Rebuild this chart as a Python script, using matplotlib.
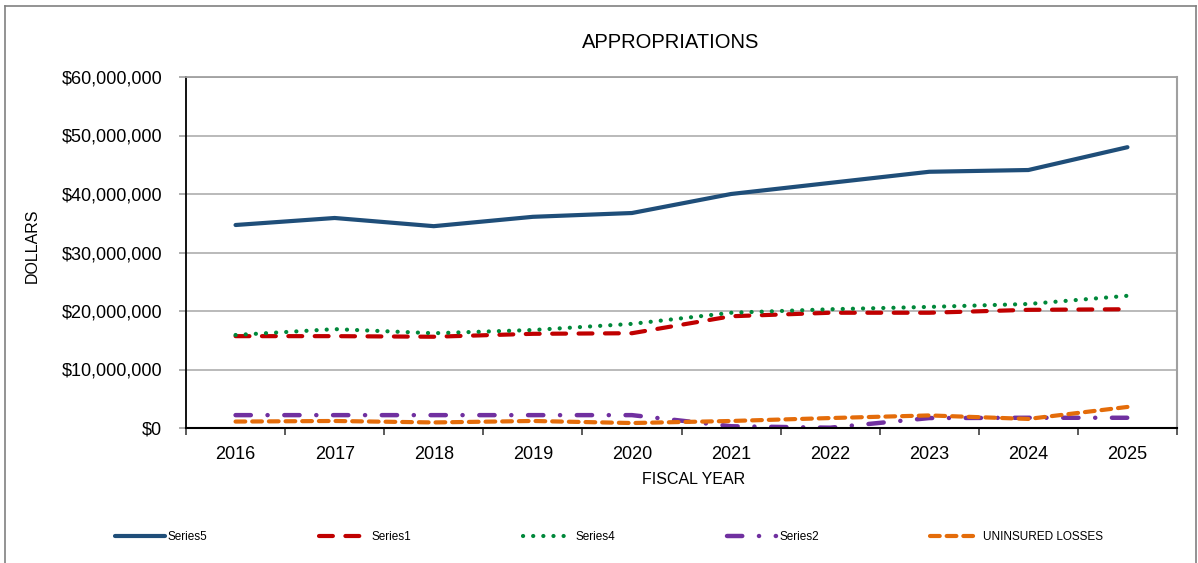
import numpy as np
import matplotlib
matplotlib.use("Agg")
import matplotlib.pyplot as plt
from matplotlib.lines import Line2D
from matplotlib.ticker import FuncFormatter, FixedLocator

# ---- data ----
years = ["2016", "2017", "2018", "2019", "2020", "2021", "2022", "2023", "2024", "2025"]
series5 = [34.7, 35.9, 34.5, 36.1, 36.75, 40.0, 41.9, 43.8, 44.1, 48.0]
series1 = [15.7, 15.7, 15.6, 16.1, 16.2, 19.1, 19.7, 19.7, 20.2, 20.3]
series4 = [15.9, 16.9, 16.2, 16.75, 17.8, 19.7, 20.3, 20.7, 21.2, 22.6]
series2 = [2.2, 2.2, 2.2, 2.2, 2.2, 0.3, 0.05, 1.7, 1.75, 1.75]
uninsured = [1.1, 1.2, 0.95, 1.2, 0.85, 1.2, 1.7, 2.15, 1.55, 3.6]
scale = 1e6

plt.rcParams['font.family'] = ['Liberation Sans', 'DejaVu Sans']
plt.rcParams['lines.scale_dashes'] = False

fig = plt.figure(figsize=(11.98, 5.63), dpi=100)
W, H = 1198, 563
ax = fig.add_axes([186 / W, 1 - 428 / H, (1177 - 186) / W, (428 - 77) / H])

x = np.arange(len(years))
ax.plot(x, np.array(series5) * scale, color='#1f4e79', lw=3, solid_capstyle='round', label='Series5')
ax.plot(x, np.array(series1) * scale, color='#c00000', lw=3, ls=(0, (10, 9)),
        dash_capstyle='round', label='Series1')
ax.plot(x, np.array(series4) * scale, color='#00883a', lw=3, ls=(0, (0.1, 7.2)),
        dash_capstyle='round', label='Series4')
ax.plot(x, np.array(series2) * scale, color='#7030a0', lw=3.2, ls=(0, (11, 12, 0.1, 12)),
        dash_capstyle='round', label='Series2')
ax.plot(x, np.array(uninsured) * scale, color='#e46c0a', lw=3, ls=(0, (7, 5)),
        dash_capstyle='round', label='UNINSURED LOSSES')

ax.set_xlim(-0.5, len(years) - 0.5)
ax.set_ylim(0, 60e6)
ax.set_yticks(np.arange(0, 60e6 + 1, 10e6))
ax.yaxis.set_major_formatter(FuncFormatter(lambda v, p: "${:,.0f}".format(v)))
ax.set_xticks(x)
ax.set_xticklabels(years)
ax.xaxis.set_minor_locator(FixedLocator(np.arange(-0.5, len(years), 1.0)))
ax.tick_params(axis='x', which='major', length=0, pad=13, labelsize=13)
ax.tick_params(axis='x', which='minor', length=5, width=1.2, color='#404040')
ax.tick_params(axis='y', length=5, width=1.2, color='#a0a0a0', pad=12, labelsize=13)

ax.grid(axis='y', color='#b4b4b4', lw=1.3)
ax.set_axisbelow(True)
ax.spines['left'].set_color('black')
ax.spines['bottom'].set_color('black')
ax.spines['left'].set_linewidth(1.3)
ax.spines['bottom'].set_linewidth(1.5)
ax.spines['top'].set_color('#a0a0a0')
ax.spines['right'].set_color('#a0a0a0')
ax.spines['top'].set_linewidth(1.3)
ax.spines['right'].set_linewidth(1.5)

fig.text(671 / W, 1 - 43 / H, "APPROPRIATIONS", ha='center', va='center', fontsize=14.5)
fig.text(32 / W, 1 - 246 / H, "DOLLARS", ha='center', va='center', rotation=90, fontsize=11.5)
fig.text(694 / W, 1 - 480 / H, "FISCAL YEAR", ha='center', va='center', fontsize=11.5)

leg = fig.legend(loc='center left', bbox_to_anchor=(115 / W, 1 - 537 / H), ncol=5,
                 frameon=False, borderpad=0, borderaxespad=0, handlelength=4.2,
                 handletextpad=0.25, columnspacing=9.45, fontsize=8.5)

# figure border
for xs, ys in [((5 / W, 5 / W), (0, 1 - 6 / H)), ((5 / W, 1196 / W), (1 - 6 / H, 1 - 6 / H)),
               ((1196 / W, 1196 / W), (0, 1 - 6 / H))]:
    fig.add_artist(Line2D(xs, ys, color='#808080', lw=1.2, transform=fig.transFigure))

fig.savefig("out.png", dpi=100)
